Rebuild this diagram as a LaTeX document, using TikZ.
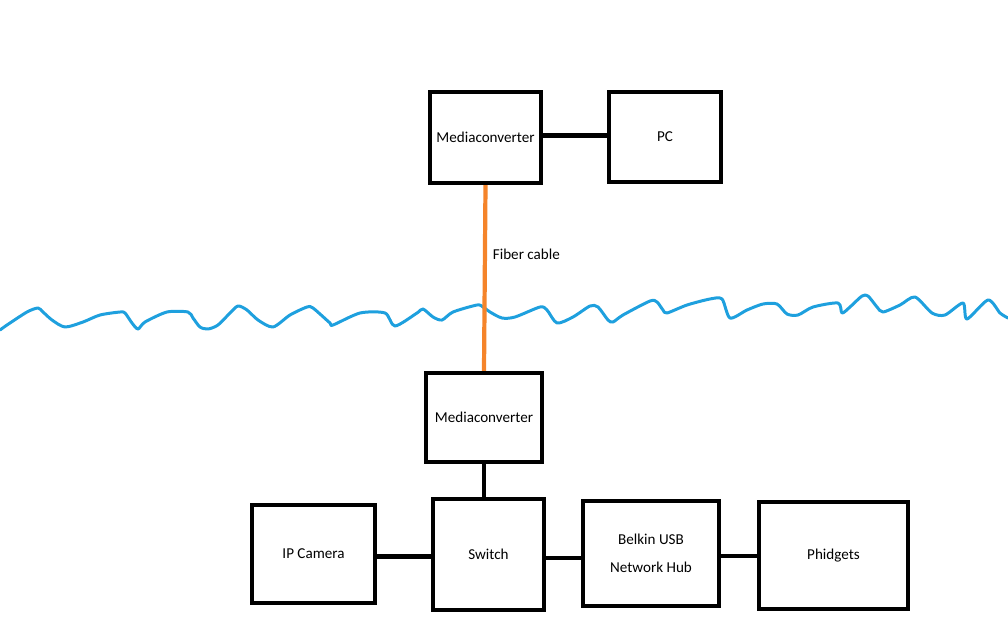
\documentclass[tikz,border=0pt]{standalone}
\usepackage{fontspec}
\setmainfont{Carlito}
\usetikzlibrary{positioning, calc}

\definecolor{fiberorange}{RGB}{245,132,42}
\definecolor{seablue}{RGB}{30,160,222}

\begin{document}
\begin{tikzpicture}[x=0.02cm, y=-0.02cm,
        box/.style={draw, line width=2.5pt, align=center, inner sep=2pt, font=\fontsize{8.6}{10.3}\selectfont},
        wire/.style={line width=2.5pt},
        fiber/.style={line width=2.4pt, draw=fiberorange},
        wave/.style={line width=1.7pt, draw=seablue, line join=round, line cap=round}]
        \useasboundingbox (0,0) rectangle (1008,630);
        % surface side
        \node[box, minimum width=2.22cm, minimum height=1.82cm] (mctop) at (485.5,137.5) {Mediaconverter};
        \node[box, minimum width=2.24cm, minimum height=1.80cm] (pc) at (665,137) {PC};
        % under water
        \node[box, minimum width=2.32cm, minimum height=1.78cm] (mcbot) at (484,417.5) {Mediaconverter};
        \node[box, minimum width=2.22cm, minimum height=2.22cm] (sw) at (488.5,554.5) {Switch};
        \node[box, minimum width=2.46cm, minimum height=1.96cm] (cam) at (313.5,554) {IP Camera};
        \node[box, minimum width=2.72cm, minimum height=2.10cm] (hub) at (651,553.5) {Belkin USB\\[5.5pt]Network Hub};
        \node[box, minimum width=2.98cm, minimum height=2.14cm] (phid) at (833.5,555.5) {Phidgets};
        % water line
        \draw[wave] plot[smooth, tension=0.45] coordinates {
            (0,330) (7,325) (27,312) (38,308) (43,312) (52,320) (65,327) (83,322)
            (100,315) (120,312) (125,313) (132,323) (138,329) (145,322) (167,312)
            (188,312) (193,318) (200,327) (208,329) (218,325) (230,313) (238,306)
            (247,310) (258,320) (273,327) (290,315) (307,307) (313,308) (330,323)
            (333,325) (360,313) (385,313) (395,326) (417,313) (423,309) (433,317)
            (442,320) (453,312) (477,305) (483,307) (490,312) (502,318) (515,317)
            (540,307) (547,310) (557,323) (573,317) (590,306) (598,307) (608,320)
            (613,322) (623,315) (650,301) (657,302) (663,310) (667,313) (687,305)
            (710,299) (722,299) (730,318) (747,310) (763,304) (777,304) (787,314)
            (798,315) (813,307) (838,303) (842,313) (850,307) (862,296) (868,296)
            (877,307) (883,312) (900,305) (915,297) (932,313) (945,315) (963,303)
            (967,319) (988,300) (1000,313) (1008,318)};
        % links
        \draw[wire] ([yshift=0.04cm]mctop.east) -- ([yshift=0.04cm]mctop.east -| pc.west);
        \draw[fiber] (mctop.south) -- node[pos=0.37, right, font=\fontsize{8.6}{10.3}\selectfont] (fiberlbl) {Fiber cable} (mcbot.north);
        \draw[wire] (mcbot.south) -- (mcbot.south |- sw.north);
        \draw[wire] ([yshift=-0.05cm]cam.east) -- ([yshift=-0.05cm]cam.east -| sw.west);
        \draw[wire] ([yshift=-0.07cm]sw.east) -- ([yshift=-0.07cm]sw.east -| hub.west);
        \draw[wire] ([yshift=-0.05cm]hub.east) -- ([yshift=-0.05cm]hub.east -| phid.west);
    \end{tikzpicture}
\end{document}
